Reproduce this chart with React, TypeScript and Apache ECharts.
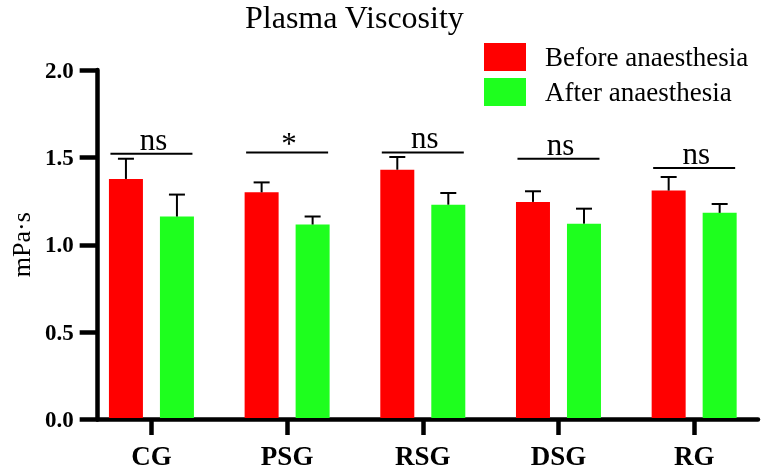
import React, { useEffect, useRef } from "react";
import * as echarts from "echarts";

const categories = ["CG", "PSG", "RSG", "DSG", "RG"];
const beforeMean = [1.374, 1.297, 1.427, 1.242, 1.307];
const beforeErr = [0.116, 0.057, 0.073, 0.061, 0.078];
const afterMean = [1.158, 1.112, 1.226, 1.117, 1.179];
const afterErr = [0.126, 0.046, 0.067, 0.086, 0.051];
const sigText = ["ns", "*", "ns", "ns", "ns"];
const sigLevel = [1.519, 1.526, 1.526, 1.49, 1.437];
const sigShift = [0, -0.095, 0, -0.03, -0.02];
const yTicks = [0, 0.5, 1.0, 1.5, 2.0];

const FONT = "'Liberation Serif', 'Times New Roman', serif";
const RED = "#FF0000";
const GREEN = "#1EFF1E";

export default function App() {
  const ref = useRef<HTMLDivElement>(null);
  useEffect(() => {
    if (!ref.current) return;
    const chart = echarts.init(ref.current, null, { renderer: "svg" });
    const barW = 34;
    const gap = 17;
    const off = (barW + gap) / 2;

    const errSeries = (mean: number[], err: number[], side: number, name: string) => ({
      type: "custom",
      name: name + " err",
      xAxisIndex: 0,
      yAxisIndex: 0,
      z: 5,
      silent: true,
      data: mean.map((m, i) => [i, m, err[i]]),
      renderItem: (params: any, api: any) => {
        const i = api.value(0);
        const v = api.value(1);
        const e = api.value(2);
        const b = api.coord([i, v]);
        const t = api.coord([i, v + e]);
        const x = b[0] + side * off;
        return {
          type: "group",
          children: [
            { type: "line", shape: { x1: x, y1: b[1], x2: x, y2: t[1] }, style: { stroke: "#000", lineWidth: 2 } },
            { type: "line", shape: { x1: x - 8, y1: t[1], x2: x + 8, y2: t[1] }, style: { stroke: "#000", lineWidth: 2 } },
          ],
        };
      },
    });

    const option: any = {
      animation: false,
      title: {
        text: "Plasma Viscosity",
        left: 240,
        top: -4,
        textStyle: { fontFamily: FONT, fontSize: 32, fontWeight: "normal", color: "#000" },
      },
      legend: {
        orient: "vertical",
        left: 479,
        top: 38,
        itemWidth: 42,
        itemHeight: 28,
        itemGap: 7,
        icon: "rect",
        data: ["Before anaesthesia", "After anaesthesia"],
        textStyle: { fontFamily: FONT, fontSize: 27, color: "#000", padding: [0, 0, 0, 14] },
      },
      grid: [
        { left: 83.6, width: 683.75, top: 70, bottom: 49.5 },
        { left: 92, right: 4, top: 70, bottom: 49.5 },
      ],
      xAxis: [
        {
          type: "category",
          gridIndex: 0,
          data: categories,
          axisLine: { show: false },
          axisTick: { show: true, alignWithLabel: true, length: 17, lineStyle: { color: "#000", width: 4.5 } },
          axisLabel: { margin: 24, fontFamily: FONT, fontSize: 27, fontWeight: "bold", color: "#000" },
        },
        {
          type: "value",
          gridIndex: 1,
          min: 0,
          max: 1,
          axisLine: { show: true, lineStyle: { color: "#000", width: 4.5 } },
          axisTick: { show: false },
          axisLabel: { show: false },
          splitLine: { show: false },
        },
      ],
      yAxis: [
        { type: "value", gridIndex: 0, min: 0, max: 2, show: false },
        {
          type: "value",
          gridIndex: 1,
          min: 0,
          max: 2,
          interval: 0.5,
          name: "mPa·s",
          nameLocation: "middle",
          nameGap: 63,
          nameTextStyle: { fontFamily: FONT, fontSize: 26, color: "#000" },
          axisLine: { show: true, lineStyle: { color: "#000", width: 4.5 } },
          axisTick: { show: true, length: 18, lineStyle: { color: "#000", width: 4.5 } },
          splitLine: { show: false },
          axisLabel: {
            margin: 24,
            fontFamily: FONT,
            fontSize: 23,
            fontWeight: "bold",
            color: "#000",
            formatter: (v: number) => (yTicks.includes(v) ? v.toFixed(1) : ""),
          },
        },
      ],
      series: [
        {
          type: "bar",
          name: "Before anaesthesia",
          xAxisIndex: 0,
          yAxisIndex: 0,
          data: beforeMean,
          barWidth: barW,
          barGap: "50%",
          itemStyle: { color: RED },
        },
        {
          type: "bar",
          name: "After anaesthesia",
          xAxisIndex: 0,
          yAxisIndex: 0,
          data: afterMean,
          barWidth: barW,
          barGap: "50%",
          itemStyle: { color: GREEN },
        },
        errSeries(beforeMean, beforeErr, -1, "Before anaesthesia"),
        errSeries(afterMean, afterErr, 1, "After anaesthesia"),
        {
          type: "custom",
          name: "sig",
          xAxisIndex: 0,
          yAxisIndex: 0,
          z: 5,
          silent: true,
          data: sigLevel.map((h, i) => [i + sigShift[i], h, i]),
          renderItem: (params: any, api: any) => {
            const p = api.coord([api.value(0), api.value(1)]);
            const idx = api.value(2);
            const label = sigText[idx];
            const half = 41;
            const dy = label === "*" ? 7 : 1;
            return {
              type: "group",
              children: [
                { type: "line", shape: { x1: p[0] - half, y1: p[1], x2: p[0] + half, y2: p[1] }, style: { stroke: "#000", lineWidth: 2 } },
                {
                  type: "text",
                  x: p[0] + 2,
                  y: p[1] + dy,
                  style: {
                    text: label,
                    fontFamily: FONT,
                    fontSize: 31,
                    fill: "#000",
                    textAlign: "center",
                    textVerticalAlign: "bottom",
                  },
                },
              ],
            };
          },
        },
      ],
    };
    chart.setOption(option);
    return () => chart.dispose();
  }, []);
  return <div ref={ref} style={{ position: "fixed", left: 0, top: 0, width: 762, height: 469 }} />;
}
